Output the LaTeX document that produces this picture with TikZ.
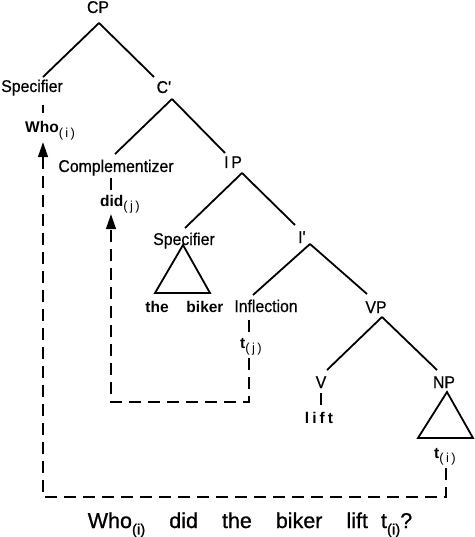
\documentclass[tikz,border=0pt]{standalone}
\usepackage{fontspec}
\setmainfont{Liberation Sans}
\newfontfamily\lblfont[FakeStretch=0.93,FakeBold=0.6]{Liberation Sans}
\newfontfamily\sentfont[FakeBold=0.8]{Liberation Sans}
\newfontfamily\spacedfont[LetterSpace=20]{Liberation Sans}
\newfontfamily\subfont[LetterSpace=18]{Liberation Sans}
\usetikzlibrary{arrows.meta,positioning}

% subscript index such as (i), (j)
\newcommand{\ix}[1]{\raisebox{-0.3em}{\fontsize{13}{13}\selectfont\subfont\mdseries(#1)}}
\newcommand{\sx}[1]{\raisebox{-0.3em}{\fontsize{15}{15}\selectfont(#1)}}

\begin{document}
\begin{tikzpicture}[
  x=1pt, y=-1pt,
  lbl/.style={anchor=base, inner sep=1pt, text height=11pt, text depth=3pt, font=\fontsize{17}{20}\selectfont\lblfont},
  wd/.style={lbl, font=\fontsize{15.5}{19}\selectfont\bfseries},
  branch/.style={line width=1.8pt},
  tick/.style={line width=1.5pt},
  tri/.style={line width=1.8pt, line join=miter},
  trace/.style={line width=1.5pt, dash pattern=on 12pt off 7pt, -{Triangle[length=15pt,width=10pt]}}
]
  \useasboundingbox (0,0) rectangle (474,537);

  % tree labels
  \node[lbl] (cp) at (98,13) {CP};
  \node[lbl] (spec1) at (32,92) {Specifier};
  \node[lbl] (cbar) at (164,93) {C\textquotesingle};
  \node[lbl] (comp) at (116,172) {Complementizer};
  \node[lbl] (ip) at (233,168) {I\,P};
  \node[lbl] (spec2) at (184,245) {Specifier};
  \node[lbl] (ibar) at (302,243) {I\textquotesingle};
  \node[lbl] (infl) at (266,312) {Inflection};
  \node[lbl] (vp) at (376,313) {VP};
  \node[lbl] (v) at (321,388) {V};
  \node[lbl] (np) at (444,388) {NP};

  % words and traces
  \node[wd, anchor=base west] (who) at (24,133) {Who\ix{i}};
  \node[wd, anchor=base west] (did) at (99,206) {did\ix{j}};
  \node[wd] (the) at (157,312) {the};
  \node[wd] (biker) at (205,312) {biker};
  \node[wd, anchor=base west] (tj) at (239,348) {t\ix{j}};
  \node[wd] (lift) at (319,423) {\spacedfont lift};
  \node[wd, anchor=base west] (ti) at (433,458) {t\ix{i}};
  \node[anchor=base, inner sep=1pt, font=\fontsize{21.5}{24}\selectfont\sentfont] (sent) at (250,528)
    {Who\sx{i}\hspace{24pt}did\hspace{24pt}the\hspace{24pt}biker\hspace{24pt}lift\hspace{13pt}t\sx{i}?};

  % branching points
  \coordinate (cpA) at ([xshift=1pt,yshift=-10pt]cp.base);
  \coordinate (cbarA) at ([xshift=8pt,yshift=-6pt]cbar.base);
  \coordinate (ipA) at ([xshift=9pt,yshift=-5pt]ip.base);
  \coordinate (ibarA) at ([xshift=8pt,yshift=-1pt]ibar.base);
  \coordinate (vpA) at ([xshift=6pt,yshift=-4pt]vp.base);

  \draw[branch] (cpA) -- ([xshift=11pt,yshift=15pt]spec1.base);
  \draw[branch] (cpA) -- ([xshift=-10pt,yshift=16pt]cbar.base);
  \draw[branch] (cbarA) -- ([xshift=-1pt,yshift=18pt]comp.base);
  \draw[branch] (cbarA) -- ([xshift=-8pt,yshift=15pt]ip.base);
  \draw[branch] (ipA) -- ([xshift=1pt,yshift=17pt]spec2.base);
  \draw[branch] (ipA) -- ([xshift=-7pt,yshift=18pt]ibar.base);
  \draw[branch] (ibarA) -- ([xshift=-13pt,yshift=17pt]infl.base);
  \draw[branch] (ibarA) -- ([xshift=-9pt,yshift=19pt]vp.base);
  \draw[branch] (vpA) -- ([xshift=6pt,yshift=18pt]v.base);
  \draw[branch] (vpA) -- ([xshift=-7pt,yshift=18pt]np.base);

  % triangles
  \draw[tri] ([xshift=-1pt]spec2.base) -- ++(-28,48) -- ++(55,0) -- cycle;
  \draw[tri] ([xshift=3pt,yshift=-4pt]np.base) -- ++(-29,46) -- ++(55,0) -- cycle;

  % short links
  \coordinate (whoX) at ([xshift=19pt]who.base west);
  \coordinate (didX) at ([xshift=12pt]did.base west);
  \coordinate (tjX) at ([xshift=10pt]tj.base west);
  \coordinate (tiX) at ([xshift=13pt]ti.base west);
  \draw[tick, shorten <=9pt, shorten >=8pt] (whoX |- spec1.south) -- (whoX |- who.north);
  \draw[tick, shorten <=2pt, shorten >=4pt] (didX |- comp.south) -- (didX |- did.north);
  \draw[tick, shorten <=4pt, shorten >=4pt] (tjX |- infl.south) -- (tjX |- tj.north);
  \draw[tick, shorten <=1pt, shorten >=6pt] (v.south) -- (v.south |- lift.north);

  % movement
  \draw[trace, shorten <=6pt, shorten >=5pt] (tiX |- ti.south) -- ++(0,35) -| (whoX |- who.south);
  \draw[trace, shorten <=6pt, shorten >=4pt] (tjX |- tj.south) -- ++(0,50) -| (didX |- did.south);
\end{tikzpicture}
\end{document}
